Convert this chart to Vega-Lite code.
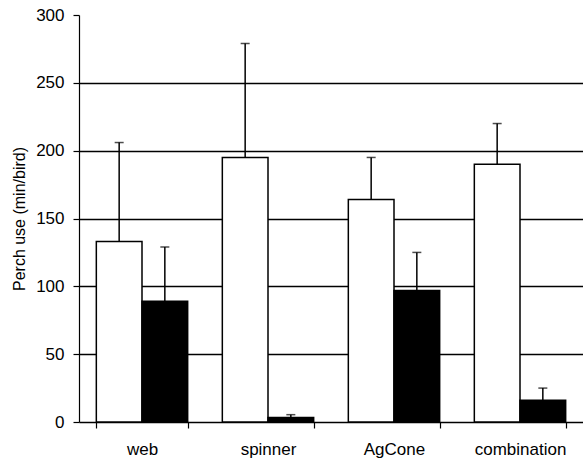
{
  "$schema": "https://vega.github.io/schema/vega-lite/v6.json",
  "width": 504,
  "height": 407,
  "autosize": "none",
  "padding": {"left": 79, "top": 15, "right": 0, "bottom": 37},
  "background": "white",
  "config": {
    "view": {"stroke": null},
    "font": "Liberation Sans",
    "axis": {"domainColor": "black", "tickColor": "black", "labelColor": "black", "titleColor": "black", "labelFont": "Liberation Sans", "titleFont": "Liberation Sans"}
  },
  "data": {
    "values": [
      {"cat": "web", "grp": "a", "value": 133, "upper": 206},
      {"cat": "web", "grp": "b", "value": 89, "upper": 129},
      {"cat": "spinner", "grp": "a", "value": 195, "upper": 279},
      {"cat": "spinner", "grp": "b", "value": 3.4, "upper": 5.4},
      {"cat": "AgCone", "grp": "a", "value": 164, "upper": 195},
      {"cat": "AgCone", "grp": "b", "value": 97, "upper": 125},
      {"cat": "combination", "grp": "a", "value": 190, "upper": 220},
      {"cat": "combination", "grp": "b", "value": 16, "upper": 25}
    ]
  },
  "encoding": {
    "x": {
      "field": "cat", "type": "nominal", "sort": ["web", "spinner", "AgCone", "combination"],
      "scale": {"paddingInner": 0.275, "paddingOuter": 0.1375},
      "axis": {"title": null, "labelAngle": 0, "labelFontSize": 17, "tickBand": "extent", "tickSize": 6, "labelPadding": 13, "domainWidth": 1.5, "tickWidth": 1.2}
    },
    "xOffset": {"field": "grp", "type": "nominal", "scale": {"paddingInner": 0, "paddingOuter": 0}}
  },
  "layer": [
    {
      "mark": {"type": "bar", "stroke": "black", "strokeWidth": 1.5},
      "encoding": {
        "y": {
          "field": "value", "type": "quantitative",
          "scale": {"domain": [0, 300], "nice": false},
          "axis": {
            "title": "Perch use (min/bird)", "titleFontSize": 16, "titleFontWeight": "normal", "titlePadding": 8,
            "values": [0, 50, 100, 150, 200, 250, 300], "labelFontSize": 17, "tickSize": 6, "labelPadding": 9,
            "domainWidth": 1.2, "tickWidth": 1.2,
            "grid": true, "gridColor": "black", "gridWidth": 1.5,
            "gridOpacity": {"condition": {"test": "datum.value == 300 || datum.value == 0", "value": 0}, "value": 1}
          }
        },
        "fill": {"field": "grp", "type": "nominal", "scale": {"domain": ["a", "b"], "range": ["white", "black"]}, "legend": null}
      }
    },
    {
      "mark": {"type": "rule", "color": "black", "strokeWidth": 1.5},
      "encoding": {
        "y": {"field": "value", "type": "quantitative"},
        "y2": {"field": "upper"}
      }
    },
    {
      "mark": {"type": "tick", "color": "black", "size": 9, "thickness": 1.5, "orient": "horizontal"},
      "encoding": {
        "y": {"field": "upper", "type": "quantitative"}
      }
    }
  ]
}
